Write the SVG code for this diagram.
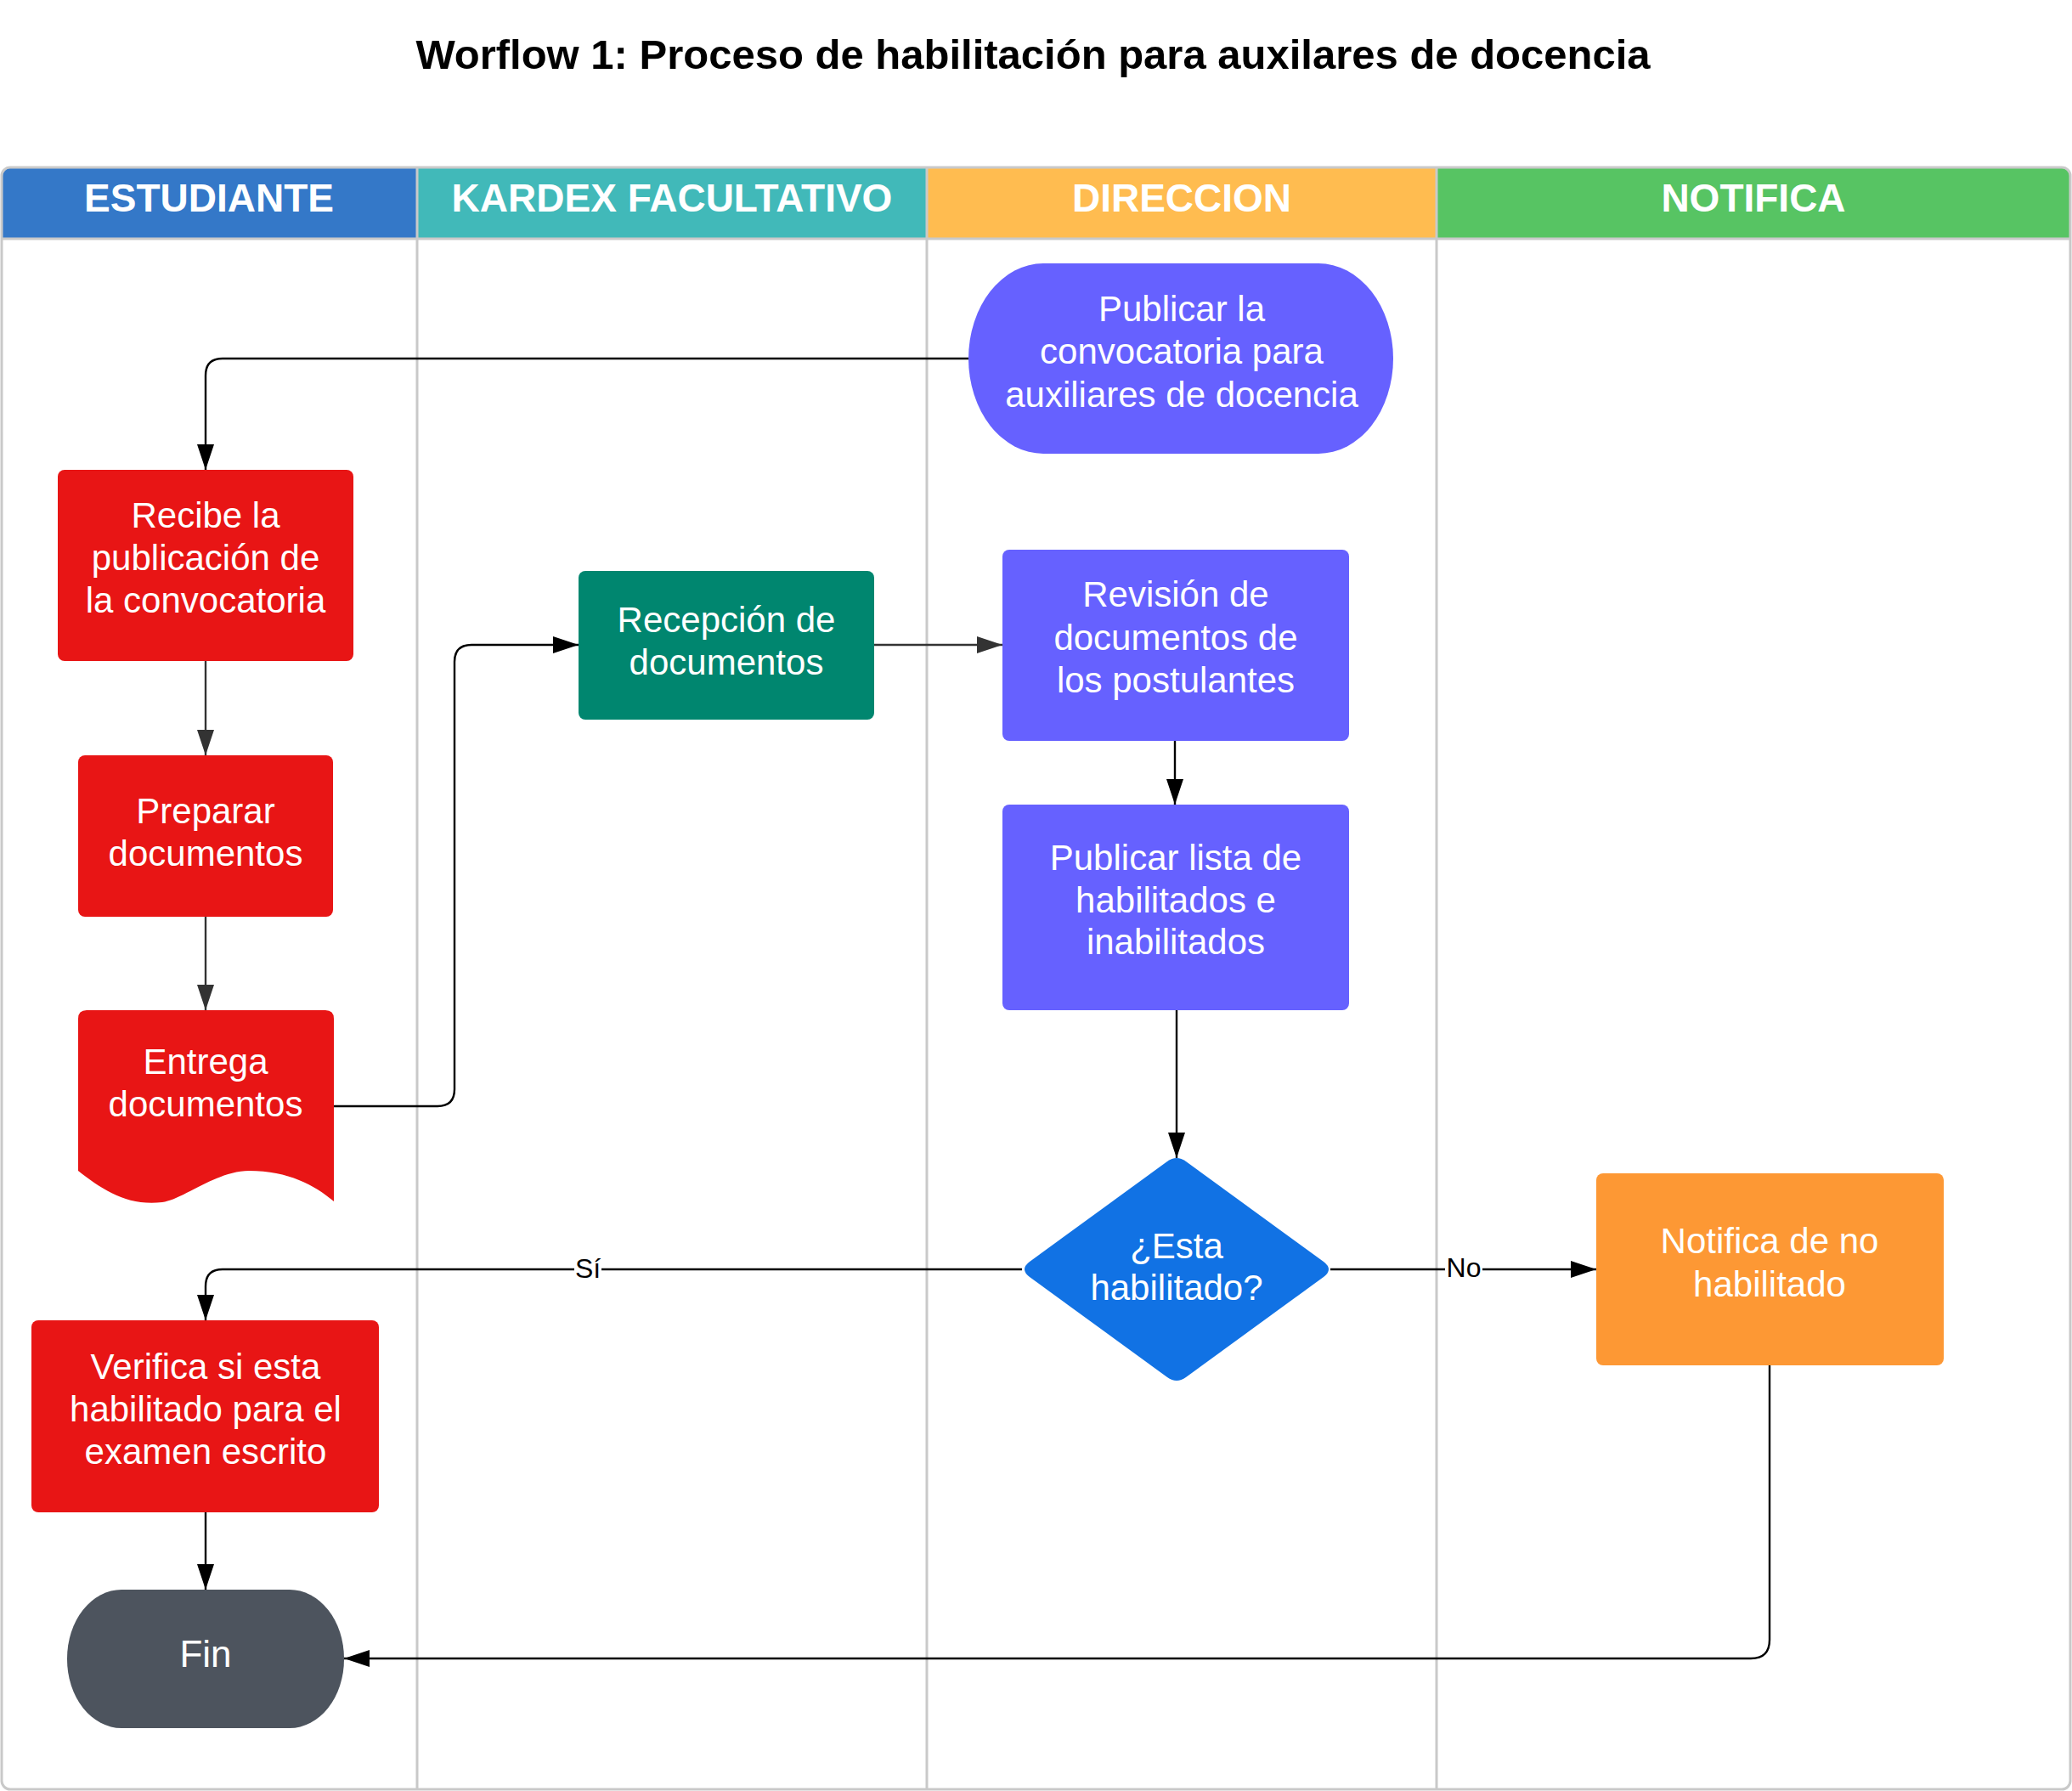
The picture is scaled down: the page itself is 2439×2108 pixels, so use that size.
<svg xmlns="http://www.w3.org/2000/svg" width="2439" height="2108" viewBox="0 0 2439 2108">
<style>
.t{font-family:"Liberation Sans",Arial,sans-serif;font-size:42px;fill:#fff;text-anchor:middle}
.h{font-family:"Liberation Sans",Arial,sans-serif;font-size:46px;font-weight:bold;fill:#fff;text-anchor:middle}
.title{font-family:"Liberation Sans",Arial,sans-serif;font-size:49px;font-weight:bold;fill:#000;text-anchor:middle}
.lbl{font-family:"Liberation Sans",Arial,sans-serif;font-size:32px;fill:#000;text-anchor:middle}
.c{fill:none;stroke:#000;stroke-width:2.4}
.c2{fill:none;stroke:#333;stroke-width:2.4}
.lane{stroke:#c9c9c9;stroke-width:3;fill:none}
.red{fill:#e81515}
.pur{fill:#6661ff}
</style>
<defs>
<marker id="ab" markerUnits="userSpaceOnUse" markerWidth="30" markerHeight="20" refX="30" refY="10" orient="auto"><path d="M0,0 L30,10 L0,20 Z" fill="#000"/></marker>
<marker id="ag" markerUnits="userSpaceOnUse" markerWidth="30" markerHeight="20" refX="30" refY="10" orient="auto"><path d="M0,0 L30,10 L0,20 Z" fill="#333"/></marker>
<clipPath id="pool"><rect x="2" y="197" width="2435" height="1909" rx="10" ry="10"/></clipPath>
</defs>
<rect width="2439" height="2108" fill="#fff"/>
<text class="title" x="1216" y="81">Worflow 1: Proceso de habilitación para auxilares de docencia</text>

<g id="pool-lanes">
<g clip-path="url(#pool)">
<rect x="2" y="197" width="489" height="84" fill="#3478c8"/>
<rect x="491" y="197" width="600" height="84" fill="#41b9b9"/>
<rect x="1091" y="197" width="600" height="84" fill="#ffbc50"/>
<rect x="1691" y="197" width="746" height="84" fill="#57c463"/>
</g>
<line class="lane" x1="2" y1="281" x2="2437" y2="281"/>
<line class="lane" x1="491" y1="197" x2="491" y2="2106"/>
<line class="lane" x1="1091" y1="197" x2="1091" y2="2106"/>
<line class="lane" x1="1691" y1="197" x2="1691" y2="2106"/>
<rect class="lane" x="2" y="197" width="2435" height="1909" rx="10" ry="10"/>
<text class="h" x="246" y="249">ESTUDIANTE</text>
<text class="h" x="791" y="249">KARDEX FACULTATIVO</text>
<text class="h" x="1391" y="249">DIRECCION</text>
<text class="h" x="2064" y="249">NOTIFICA</text>
</g>

<g id="connectors">
<path class="c" d="M1140,422 H262 Q242,422 242,442 V553" marker-end="url(#ab)"/>
<path class="c2" d="M242,778 V889" marker-end="url(#ag)"/>
<path class="c2" d="M242,1079 V1189" marker-end="url(#ag)"/>
<path class="c" d="M393,1302 H515 Q535,1302 535,1282 V779 Q535,759 555,759 H681" marker-end="url(#ab)"/>
<path class="c2" d="M1029,759 H1180" marker-end="url(#ag)"/>
<path class="c" d="M1383,872 V947" marker-end="url(#ab)"/>
<path class="c" d="M1385,1189 V1363" marker-end="url(#ab)"/>
<path class="c" d="M1203,1494 H262 Q242,1494 242,1514 V1554" marker-end="url(#ab)"/>
<path class="c" d="M1566,1494 H1879" marker-end="url(#ab)"/>
<path class="c" d="M2083,1607 V1930 Q2083,1952 2061,1952 H405" marker-end="url(#ab)"/>
<path class="c" d="M242,1780 V1871" marker-end="url(#ab)"/>
<rect x="676" y="1474" width="32" height="36" fill="#fff"/>
<text class="lbl" x="692" y="1504">Sí</text>
<rect x="1701" y="1474" width="44" height="36" fill="#fff"/>
<text class="lbl" x="1723" y="1503">No</text>
</g>

<g id="n-publicar">
<rect class="pur" x="1140" y="310" width="500" height="224" rx="88" ry="112"/>
<text class="t" x="1391" y="378">Publicar la</text>
<text class="t" x="1391" y="428">convocatoria para</text>
<text class="t" x="1391" y="479">auxiliares de docencia</text>
</g>

<g id="n-recibe">
<rect class="red" x="68" y="553" width="348" height="225" rx="8"/>
<text class="t" x="242" y="621">Recibe la</text>
<text class="t" x="242" y="671">publicación de</text>
<text class="t" x="242" y="721">la convocatoria</text>
</g>

<g id="n-preparar">
<rect class="red" x="92" y="889" width="300" height="190" rx="8"/>
<text class="t" x="242" y="969">Preparar</text>
<text class="t" x="242" y="1019">documentos</text>
</g>

<g id="n-entrega">
<path class="red" d="M92,1378 V1199 Q92,1189 102,1189 H383 Q393,1189 393,1199 V1414 C370,1395 340,1378 293,1378 C255,1378 215,1412 191,1415 C150,1420 120,1400 92,1378 Z"/>
<text class="t" x="242" y="1264">Entrega</text>
<text class="t" x="242" y="1314">documentos</text>
</g>

<g id="n-recepcion">
<rect x="681" y="672" width="348" height="175" rx="8" fill="#00866f"/>
<text class="t" x="855" y="744">Recepción de</text>
<text class="t" x="855" y="794">documentos</text>
</g>

<g id="n-revision">
<rect class="pur" x="1180" y="647" width="408" height="225" rx="8"/>
<text class="t" x="1384" y="714">Revisión de</text>
<text class="t" x="1384" y="765">documentos de</text>
<text class="t" x="1384" y="815">los postulantes</text>
</g>

<g id="n-lista">
<rect class="pur" x="1180" y="947" width="408" height="242" rx="8"/>
<text class="t" x="1384" y="1024">Publicar lista de</text>
<text class="t" x="1384" y="1074">habilitados e</text>
<text class="t" x="1384" y="1123">inabilitados</text>
</g>

<g id="n-decision">
<path d="M1374,1367 Q1385,1359 1396,1367 L1558,1485 Q1570,1494 1558,1503 L1396,1621 Q1385,1629 1374,1621 L1212,1503 Q1200,1494 1212,1485 Z" fill="#1172e4"/>
<text class="t" x="1385" y="1481">¿Esta</text>
<text class="t" x="1385" y="1530">habilitado?</text>
</g>

<g id="n-notifica">
<rect x="1879" y="1381" width="409" height="226" rx="8" fill="#fd9834"/>
<text class="t" x="2083" y="1475">Notifica de no</text>
<text class="t" x="2083" y="1526">habilitado</text>
</g>

<g id="n-verifica">
<rect class="red" x="37" y="1554" width="409" height="226" rx="8"/>
<text class="t" x="242" y="1623">Verifica si esta</text>
<text class="t" x="242" y="1673">habilitado para el</text>
<text class="t" x="242" y="1723">examen escrito</text>
</g>

<g id="n-fin">
<rect x="79" y="1871" width="326" height="163" rx="64" ry="81" fill="#4d545e"/>
<text class="t" x="242" y="1962" style="font-size:44px">Fin</text>
</g>
</svg>
